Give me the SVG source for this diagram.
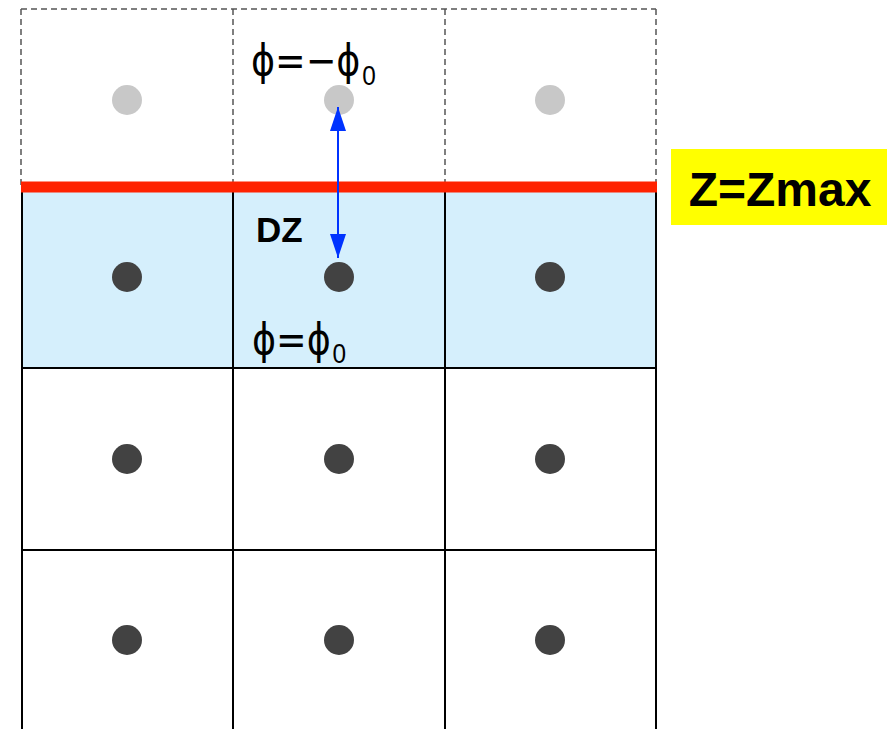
<svg xmlns="http://www.w3.org/2000/svg" width="887" height="729" viewBox="0 0 887 729">
<defs>
<style>
.dash{fill:none;stroke:#555;stroke-width:1.5;stroke-dasharray:6 4}
.grid{fill:none;stroke:#000;stroke-width:2}
.ghost{fill:#c8c8c8}
.cell{fill:#424242}
.phi{font-family:"DejaVu Sans",sans-serif;font-size:42px;fill:#000}
.sub{font-family:"Liberation Sans",Arial,sans-serif;font-size:28px}
.bold{font-family:"Liberation Sans",Arial,sans-serif;font-weight:bold;fill:#000}
</style>
<marker id="ah2" viewBox="0 0 24 16" refX="24" refY="8" markerWidth="24" markerHeight="16" markerUnits="userSpaceOnUse" orient="auto-start-reverse">
<path d="M0,0 L24,8 L0,16 Z" fill="#0033ff"/>
</marker>
</defs>
<rect width="887" height="729" fill="#fff"/>
<g id="ghost-row">
<path class="dash" d="M21,9 H656 M21,9 V187 M233,9 V187 M445,9 V187 M656,9 V187"/>
<circle class="ghost" cx="127" cy="100" r="15"/>
<circle class="ghost" cx="339" cy="100" r="15"/>
<circle class="ghost" cx="550" cy="100" r="15"/>
</g>
<g id="boundary-row">
<rect x="22" y="187" width="634" height="181" fill="#d5effc"/>
</g>
<g id="grid">
<path class="grid" d="M22,187 V729 M233,187 V729 M445,187 V729 M656,187 V729 M22,368 H656 M22,550 H656"/>
</g>
<g id="cells">
<circle class="cell" cx="127" cy="277" r="15"/>
<circle class="cell" cx="339" cy="277" r="15"/>
<circle class="cell" cx="550" cy="277" r="15"/>
<circle class="cell" cx="127" cy="459" r="15"/>
<circle class="cell" cx="339" cy="459" r="15"/>
<circle class="cell" cx="550" cy="459" r="15"/>
<circle class="cell" cx="127" cy="640" r="15"/>
<circle class="cell" cx="339" cy="640" r="15"/>
<circle class="cell" cx="550" cy="640" r="15"/>
</g>
<g id="zmax-line">
<line x1="21" y1="187" x2="657" y2="187" stroke="#ff2200" stroke-width="11"/>
</g>
<g id="connectors">
<line x1="338" y1="107" x2="338" y2="258" stroke="#0033ff" stroke-width="2" marker-start="url(#ah2)" marker-end="url(#ah2)"/>
</g>
<g id="labels">
<text class="phi" transform="translate(251 75) scale(0.87 1)">ϕ=−ϕ<tspan class="sub" dx="2" dy="10">0</tspan></text>
<text class="phi" transform="translate(252 354) scale(0.87 1)">ϕ=ϕ<tspan class="sub" dx="2" dy="9">0</tspan></text>
<text class="bold" x="256" y="242" font-size="35">DZ</text>
</g>
<g id="zmax-label">
<rect x="671" y="149" width="216" height="76" fill="#ffff00"/>
<text class="bold" x="780" y="206" font-size="48" text-anchor="middle">Z=Zmax</text>
</g>
</svg>
